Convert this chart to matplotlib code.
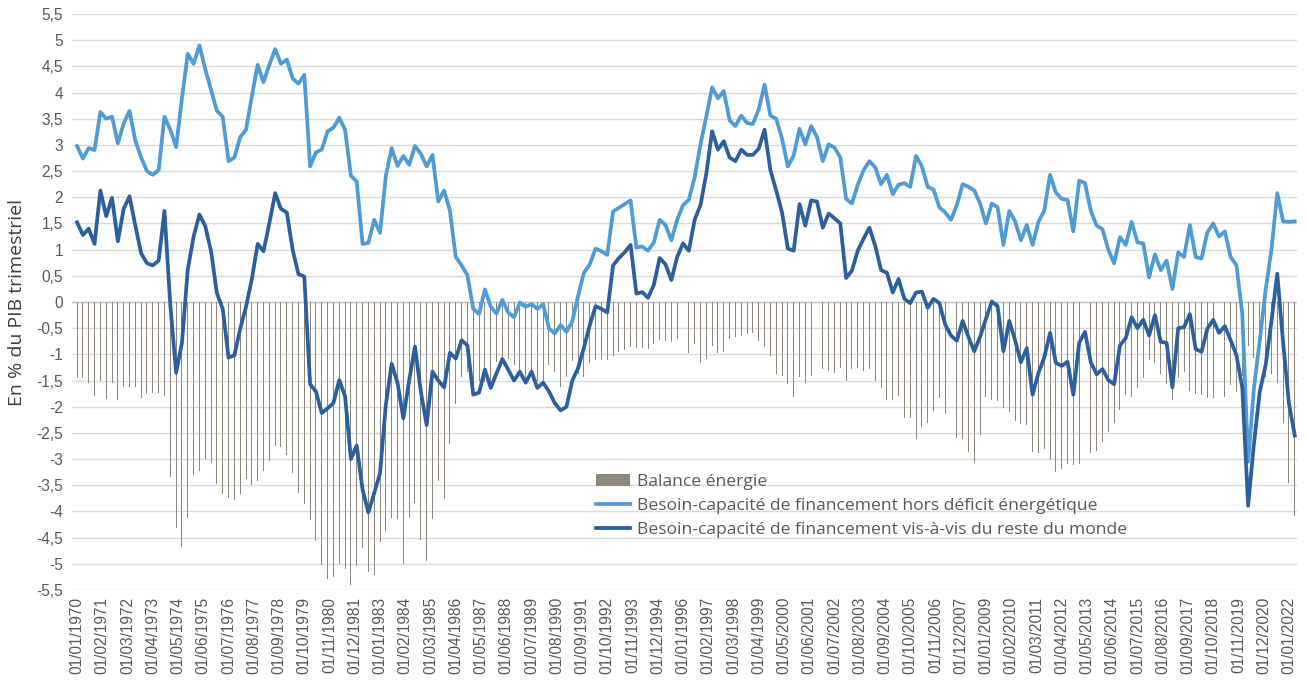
import numpy as np
import matplotlib
matplotlib.use("Agg")
import matplotlib.pyplot as plt

# quarterly values, 1970Q1 -> 2022Q2 (% du PIB trimestriel)
hors_energie = [
    2.98, 2.74, 2.94, 2.90, 3.63, 3.50, 3.54, 3.03, 3.41, 3.65,
    3.08, 2.76, 2.50, 2.43, 2.52, 3.54, 3.29, 2.96, 3.89, 4.74,
    4.55, 4.90, 4.45, 4.05, 3.65, 3.54, 2.69, 2.76, 3.15, 3.29,
    3.93, 4.53, 4.20, 4.53, 4.83, 4.55, 4.63, 4.27, 4.17, 4.34,
    2.59, 2.86, 2.91, 3.26, 3.33, 3.52, 3.29, 2.41, 2.30, 1.11,
    1.13, 1.57, 1.32, 2.41, 2.94, 2.60, 2.79, 2.62, 2.98, 2.83,
    2.59, 2.81, 1.92, 2.13, 1.74, 0.86, 0.70, 0.51, -0.13, -0.23,
    0.24, -0.09, -0.22, 0.04, -0.20, -0.29, -0.01, -0.09, -0.04, -0.13,
    -0.04, -0.51, -0.60, -0.44, -0.57, -0.37, 0.12, 0.56, 0.72, 1.02,
    0.97, 0.90, 1.73, 1.80, 1.87, 1.94, 1.04, 1.06, 0.98, 1.14,
    1.57, 1.47, 1.18, 1.57, 1.85, 1.95, 2.38, 3.01, 3.54, 4.10,
    3.89, 4.03, 3.47, 3.36, 3.56, 3.42, 3.40, 3.68, 4.15, 3.56,
    3.50, 3.12, 2.59, 2.80, 3.31, 3.01, 3.36, 3.15, 2.69, 3.01,
    2.95, 2.76, 1.97, 1.88, 2.24, 2.52, 2.69, 2.57, 2.25, 2.43,
    2.06, 2.24, 2.27, 2.20, 2.79, 2.59, 2.20, 2.15, 1.81, 1.71,
    1.57, 1.85, 2.25, 2.20, 2.13, 1.88, 1.50, 1.88, 1.81, 1.09,
    1.74, 1.54, 1.18, 1.47, 1.09, 1.53, 1.74, 2.43, 2.09, 1.97,
    1.95, 1.35, 2.32, 2.27, 1.74, 1.46, 1.39, 1.00, 0.74, 1.24,
    1.09, 1.53, 1.14, 1.12, 0.47, 0.91, 0.61, 0.79, 0.25, 0.95,
    0.86, 1.47, 0.86, 0.83, 1.33, 1.50, 1.25, 1.35, 0.86, 0.70,
    -0.23, -3.05, -1.64, -0.73, 0.23, 1.00, 2.08, 1.54, 1.53, 1.54,
]

reste_monde = [
    1.52, 1.28, 1.40, 1.11, 2.13, 1.64, 1.99, 1.16, 1.78, 2.02,
    1.46, 0.93, 0.74, 0.70, 0.79, 1.74, -0.05, -1.35, -0.78, 0.62,
    1.25, 1.67, 1.45, 0.97, 0.17, -0.13, -1.06, -1.02, -0.51, -0.09,
    0.44, 1.11, 0.97, 1.50, 2.08, 1.78, 1.71, 1.00, 0.53, 0.49,
    -1.57, -1.71, -2.12, -2.03, -1.93, -1.49, -1.80, -3.00, -2.74, -3.58,
    -4.02, -3.65, -3.27, -1.96, -1.18, -1.54, -2.22, -1.50, -0.85, -1.71,
    -2.35, -1.33, -1.50, -1.63, -0.97, -1.08, -0.73, -0.83, -1.77, -1.73,
    -1.29, -1.64, -1.36, -1.09, -1.29, -1.50, -1.33, -1.54, -1.33, -1.64,
    -1.54, -1.71, -1.93, -2.07, -2.00, -1.50, -1.26, -0.87, -0.44, -0.08,
    -0.13, -0.20, 0.70, 0.84, 0.95, 1.09, 0.16, 0.19, 0.08, 0.33,
    0.84, 0.72, 0.42, 0.86, 1.12, 0.98, 1.57, 1.85, 2.45, 3.26,
    2.91, 3.07, 2.76, 2.69, 2.91, 2.81, 2.81, 2.93, 3.29, 2.52,
    2.13, 1.71, 1.02, 0.98, 1.87, 1.46, 1.94, 1.92, 1.42, 1.69,
    1.60, 1.50, 0.46, 0.60, 0.98, 1.21, 1.42, 1.07, 0.61, 0.56,
    0.18, 0.44, 0.06, -0.02, 0.18, 0.20, -0.11, 0.06, -0.02, -0.43,
    -0.64, -0.74, -0.36, -0.67, -0.94, -0.66, -0.32, 0.01, -0.08, -0.94,
    -0.36, -0.73, -1.15, -0.88, -1.77, -1.36, -1.06, -0.59, -1.16, -1.22,
    -1.14, -1.77, -0.78, -0.57, -1.15, -1.38, -1.28, -1.49, -1.57, -0.83,
    -0.69, -0.29, -0.50, -0.34, -0.64, -0.25, -0.76, -0.78, -1.63, -0.50,
    -0.48, -0.23, -0.90, -0.95, -0.51, -0.34, -0.59, -0.46, -0.73, -1.02,
    -1.64, -3.89, -2.70, -1.71, -1.21, -0.37, 0.54, -0.77, -1.93, -2.55,
]

balance_energie = [
    -1.46, -1.46, -1.54, -1.79, -1.50, -1.86, -1.55, -1.87, -1.63, -1.63,
    -1.62, -1.83, -1.76, -1.73, -1.73, -1.80, -3.34, -4.31, -4.67, -4.12,
    -3.30, -3.23, -3.00, -3.08, -3.48, -3.67, -3.75, -3.78, -3.66, -3.38,
    -3.49, -3.42, -3.23, -3.03, -2.75, -2.77, -2.92, -3.27, -3.64, -3.85,
    -4.16, -4.57, -5.03, -5.29, -5.26, -5.01, -5.09, -5.41, -5.04, -4.69,
    -5.15, -5.22, -4.59, -4.37, -4.12, -4.14, -5.01, -4.12, -3.83, -4.54,
    -4.94, -4.14, -3.42, -3.76, -2.71, -1.94, -1.43, -1.34, -1.64, -1.50,
    -1.53, -1.55, -1.14, -1.13, -1.09, -1.21, -1.32, -1.45, -1.29, -1.51,
    -1.50, -1.20, -1.33, -1.63, -1.43, -1.13, -1.38, -1.43, -1.16, -1.10,
    -1.10, -1.10, -1.03, -0.96, -0.92, -0.85, -0.88, -0.87, -0.90, -0.81,
    -0.73, -0.75, -0.76, -0.71, -0.73, -0.97, -0.81, -1.16, -1.09, -0.84,
    -0.98, -0.96, -0.71, -0.67, -0.65, -0.61, -0.59, -0.75, -0.86, -1.04,
    -1.37, -1.41, -1.57, -1.82, -1.44, -1.55, -1.42, -1.23, -1.27, -1.32,
    -1.35, -1.26, -1.51, -1.28, -1.26, -1.31, -1.27, -1.50, -1.64, -1.87,
    -1.88, -1.80, -2.21, -2.22, -2.61, -2.39, -2.31, -2.09, -1.83, -2.14,
    -2.21, -2.59, -2.61, -2.87, -3.07, -2.54, -1.82, -1.87, -1.89, -2.03,
    -2.10, -2.27, -2.33, -2.35, -2.86, -2.89, -2.80, -3.02, -3.25, -3.19,
    -3.09, -3.12, -3.10, -2.84, -2.89, -2.84, -2.67, -2.49, -2.31, -2.07,
    -1.78, -1.82, -1.64, -1.46, -1.11, -1.16, -1.37, -1.57, -1.88, -1.45,
    -1.34, -1.70, -1.76, -1.78, -1.84, -1.84, -1.84, -1.81, -1.59, -1.72,
    -1.41, -0.84, -1.06, -0.98, -1.44, -1.37, -1.54, -2.31, -3.46, -4.09,
]

date_labels = [
    "01/01/1970", "01/02/1971", "01/03/1972", "01/04/1973", "01/05/1974",
    "01/06/1975", "01/07/1976", "01/08/1977", "01/09/1978", "01/10/1979",
    "01/11/1980", "01/12/1981", "01/01/1983", "01/02/1984", "01/03/1985",
    "01/04/1986", "01/05/1987", "01/06/1988", "01/07/1989", "01/08/1990",
    "01/09/1991", "01/10/1992", "01/11/1993", "01/12/1994", "01/01/1996",
    "01/02/1997", "01/03/1998", "01/04/1999", "01/05/2000", "01/06/2001",
    "01/07/2002", "01/08/2003", "01/09/2004", "01/10/2005", "01/11/2006",
    "01/12/2007", "01/01/2009", "01/02/2010", "01/03/2011", "01/04/2012",
    "01/05/2013", "01/06/2014", "01/07/2015", "01/08/2016", "01/09/2017",
    "01/10/2018", "01/11/2019", "01/12/2020", "01/01/2022",
]

labels = ["Balance énergie",
          "Besoin-capacité de financement hors déficit énergétique",
          "Besoin-capacité de financement vis-à-vis du reste du monde"]

# x axis in months since 01/1970, one point per quarter
months = np.arange(len(reste_monde)) * 3
tick_months = np.arange(len(date_labels)) * 13

fig = plt.figure(figsize=(13.07, 6.81), dpi=100)
ax = fig.add_axes([0.0551, 0.1336, 0.9373, 0.8458])

bars = ax.bar(months, balance_energie, width=0.5, color="#8d887b", zorder=2)
l1, = ax.plot(months, hors_energie, color="#4f9bd5", lw=2.7, zorder=3,
              solid_joinstyle="round")
l2, = ax.plot(months, reste_monde, color="#2c5f9e", lw=2.7, zorder=4,
              solid_joinstyle="round")

ax.set_xlim(-2.6, 628.2)
ax.set_ylim(-5.5, 5.5)

yt = np.arange(-5.5, 5.51, 0.5)
ax.set_yticks(yt)
ax.set_yticklabels([("%g" % v).replace(".", ",") for v in yt],
                   fontsize=11.2, color="#595959", family="Liberation Sans")
ax.set_xticks(tick_months)
ax.set_xticklabels(date_labels, rotation=90, fontsize=11.2, color="#595959",
                   family="Liberation Sans")
ax.tick_params(axis="both", length=0)
ax.tick_params(axis="y", pad=6.5)
ax.tick_params(axis="x", pad=5)

ax.grid(axis="y", color="#d9d9d9", lw=1.0, zorder=0)
ax.set_axisbelow(True)
ax.axhline(0, color="#c4c4c4", lw=1.0, zorder=1)
for s in ax.spines.values():
    s.set_visible(False)

fig.text(0.013, 0.5565, "En % du PIB trimestriel", rotation=90, ha="center",
         va="center", fontsize=14, color="#404040", family="Open Sans")

leg = ax.legend([bars, l1, l2], labels, loc="upper left",
                bbox_to_anchor=(587 / 1307, 1 - 465 / 681),
                bbox_transform=fig.transFigure, frameon=False,
                prop={"family": "Open Sans", "size": 12.6}, handlelength=1.95,
                handletextpad=0.4, labelspacing=0.45, borderpad=0)
for t in leg.get_texts():
    t.set_color("#595959")

fig.savefig("out.png", dpi=100)
